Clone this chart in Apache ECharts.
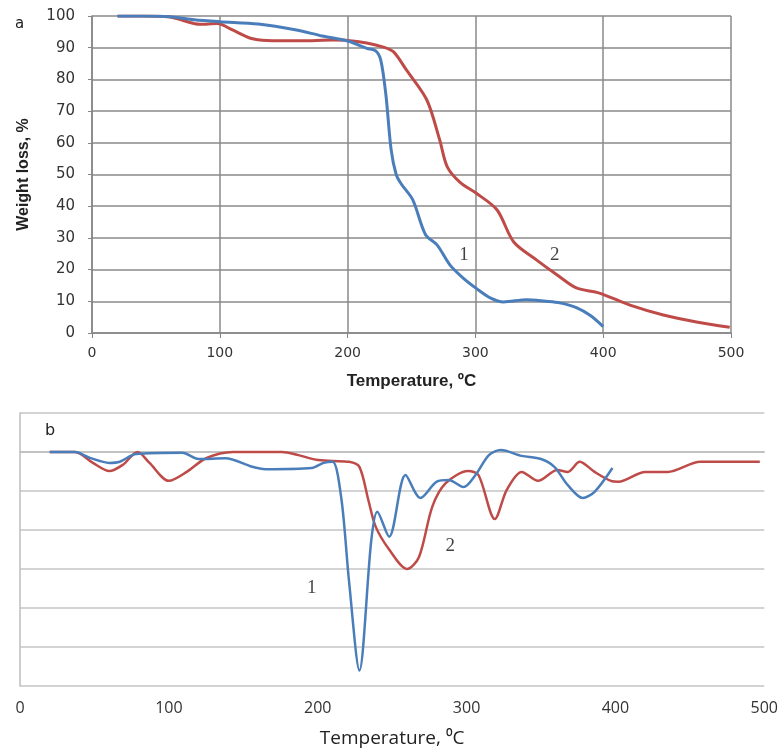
<!DOCTYPE html>
<html><head><meta charset="utf-8">
<script src="https://cdn.jsdelivr.net/npm/echarts@6/dist/echarts.min.js"></script>
<style>html,body{margin:0;padding:0;background:#fff}#c{width:781px;height:749px}</style>
</head><body><div id="c"></div>
<script>
// Panel a: TGA weight loss (%) vs temperature
const tgaT1 = [20, 40, 63, 80, 100, 130, 160, 180, 200, 215, 222, 226, 230, 234, 238, 242, 251, 261, 270, 280, 290, 301, 312, 322, 340, 355, 366, 379, 390, 400];
const tgaV1 = [100, 100, 99.7, 98.8, 98.2, 97.5, 95.6, 93.7, 92.1, 89.8, 89, 86, 75, 58, 50, 47, 42, 31, 27.8, 21.5, 17.5, 14, 11, 9.8, 10.5, 10, 9.5, 8, 5.5, 2];
const tgaT2 = [20, 40, 60, 72, 84, 98, 110, 124, 137, 163, 189, 200, 215, 228, 236, 246, 262, 272, 278, 288, 301, 317, 330, 348, 364, 379, 397, 421, 447, 473, 499];
const tgaV2 = [100, 100, 99.8, 98.5, 97.4, 97.6, 95.6, 93, 92.3, 92.2, 92.4, 92.3, 91.5, 90.2, 88.7, 83, 73.5, 61, 52.4, 47.5, 44, 38.8, 28.7, 23, 18.3, 14.2, 12.6, 8.8, 5.7, 3.5, 1.8];
// Panel b: DTG curves (arbitrary units, 0 = baseline)
const dtgT1 = [20, 37, 47, 60, 67, 78, 109, 120, 138, 156, 165, 196, 204, 210, 216, 221, 228, 236, 240, 248, 259, 269, 280, 288, 298, 306, 315, 323, 337, 350, 359, 368, 378, 386, 398];
const dtgV1 = [0, 0, -0.15, -0.28, -0.25, -0.05, -0.02, -0.18, -0.16, -0.38, -0.44, -0.41, -0.28, -0.25, -1.23, -3.3, -5.6, -2.26, -1.53, -2.17, -0.59, -1.18, -0.76, -0.72, -0.9, -0.59, -0.08, 0.05, -0.1, -0.18, -0.38, -0.85, -1.18, -1.02, -0.41];
const dtgT2 = [20, 37, 49, 60, 69, 79, 87, 100, 112, 125, 143, 165, 176, 187, 199, 210, 221, 228, 234, 239, 248, 260, 268, 277, 286, 301, 308, 319, 327, 337, 348, 361, 368, 376, 386, 397, 402, 420, 435, 457, 475, 497];
const dtgV2 = [0, 0, -0.28, -0.49, -0.33, 0, -0.28, -0.74, -0.51, -0.16, 0, 0, 0, -0.08, -0.2, -0.23, -0.25, -0.38, -1.23, -1.92, -2.5, -3.0, -2.7, -1.4, -0.8, -0.49, -0.59, -1.72, -0.97, -0.51, -0.74, -0.46, -0.51, -0.25, -0.51, -0.74, -0.76, -0.51, -0.51, -0.25, -0.25, -0.25];
const labelsA = [{name: '1', T: 291, v: 24.5}, {name: '2', T: 362, v: 24.5}];
const labelsB = [{name: '1', T: 196, v: -3.5}, {name: '2', T: 289, v: -2.4}];

const pairs = (t, v) => t.map((x, i) => [x, v[i]]);
const blue = '#4a7ebb', red = '#be4b48';
const chart = echarts.init(document.getElementById('c'));
chart.setOption({
  animation: false,
  backgroundColor: '#fff',
  grid: [
    {left: 92, right: 50, top: 16, bottom: 416},
    {left: 20, right: 16, top: 413, bottom: 63}
  ],
  xAxis: [
    {gridIndex: 0, type: 'value', min: 0, max: 500, interval: 100,
     axisLine: {show: true, lineStyle: {color: '#868686', width: 1.5}},
     axisTick: {show: true, length: 5, lineStyle: {color: '#868686'}},
     splitLine: {show: true, lineStyle: {color: '#8a8a8a', width: 1.5}},
     axisLabel: {color: '#333', fontSize: 14, fontFamily: 'DejaVu Sans', margin: 13},
     name: 'Temperature, ºC', nameLocation: 'middle', nameGap: 40,
     nameTextStyle: {fontWeight: 'bold', fontSize: 17, color: '#222', fontFamily: 'Liberation Sans, Arial'}},
    {gridIndex: 1, type: 'value', min: 0, max: 500, interval: 100,
     axisLine: {show: true, lineStyle: {color: '#bdbdbd', width: 1.5}},
     axisTick: {show: false},
     splitLine: {show: false},
     axisLabel: {color: '#333', fontSize: 16, fontFamily: 'Open Sans, DejaVu Sans', margin: 14},
     name: 'Temperature, ⁰C', nameLocation: 'middle', nameGap: 43,
     nameTextStyle: {fontSize: 19, color: '#222', fontFamily: 'Open Sans, DejaVu Sans'}}
  ],
  yAxis: [
    {gridIndex: 0, type: 'value', min: 0, max: 100, interval: 10,
     axisLine: {show: true, lineStyle: {color: '#868686', width: 1.5}},
     axisTick: {show: true, length: 4, lineStyle: {color: '#868686'}},
     splitLine: {show: true, lineStyle: {color: '#8a8a8a', width: 1.5}},
     axisLabel: {color: '#333', fontSize: 15, fontFamily: 'DejaVu Sans', margin: 17},
     name: 'Weight loss, %', nameLocation: 'middle', nameGap: 60,
     nameTextStyle: {fontWeight: 'bold', fontSize: 16, color: '#222', fontFamily: 'Liberation Sans, Arial'}},
    {gridIndex: 1, type: 'value', min: -6, max: 1, interval: 1,
     axisLine: {show: true, lineStyle: {color: '#bdbdbd', width: 1.5}},
     axisTick: {show: false},
     axisLabel: {show: false},
     splitLine: {show: true, lineStyle: {color: '#c4c4c4', width: 1.5}}}
  ],
  graphic: [
    {type: 'text', left: 15, top: 17, style: {text: 'a', fontSize: 15, fill: '#222', fontFamily: 'DejaVu Sans'}},
    {type: 'text', left: 45, top: 423, style: {text: 'b', fontSize: 16, fill: '#222', fontFamily: 'DejaVu Sans'}}
  ],
  series: [
    {type: 'line', xAxisIndex: 0, yAxisIndex: 0, data: pairs(tgaT1, tgaV1), smooth: 0.3, showSymbol: false, lineStyle: {color: blue, width: 3}, z: 3},
    {type: 'line', xAxisIndex: 0, yAxisIndex: 0, data: pairs(tgaT2, tgaV2), smooth: 0.3, showSymbol: false, lineStyle: {color: red, width: 3}, z: 2},
    {type: 'line', xAxisIndex: 1, yAxisIndex: 1, data: pairs(dtgT1, dtgV1), smooth: 0.3, showSymbol: false, lineStyle: {color: blue, width: 2.5}, z: 3},
    {type: 'line', xAxisIndex: 1, yAxisIndex: 1, data: pairs(dtgT2, dtgV2), smooth: 0.3, showSymbol: false, lineStyle: {color: red, width: 2.5}, z: 2},
    {type: 'scatter', xAxisIndex: 0, yAxisIndex: 0, symbolSize: 0, silent: true,
     data: labelsA.map(l => ({value: [l.T, l.v], name: l.name})),
     label: {show: true, formatter: p => p.name, position: 'inside', fontSize: 19, color: '#111', fontFamily: 'Liberation Serif, DejaVu Serif'}},
    {type: 'scatter', xAxisIndex: 1, yAxisIndex: 1, symbolSize: 0, silent: true,
     data: labelsB.map(l => ({value: [l.T, l.v], name: l.name})),
     label: {show: true, formatter: p => p.name, position: 'inside', fontSize: 19, color: '#111', fontFamily: 'Liberation Serif, DejaVu Serif'}}
  ]
});
</script></body></html>
